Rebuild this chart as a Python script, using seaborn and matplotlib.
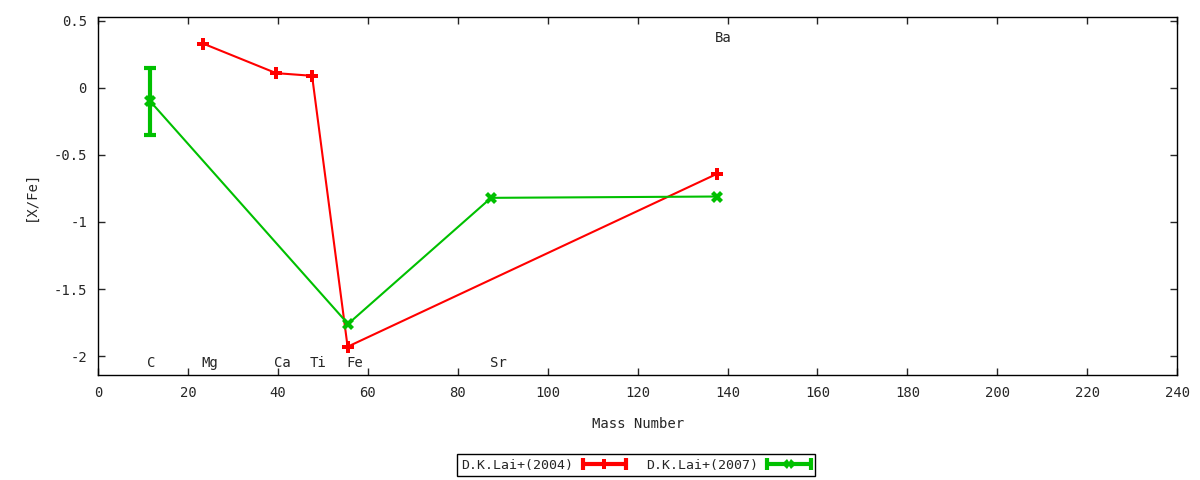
import numpy as np
import pandas as pd
import seaborn as sns
import matplotlib
matplotlib.use("Agg")
import matplotlib.pyplot as plt
from matplotlib.lines import Line2D
from matplotlib.legend_handler import HandlerBase

# abundance data
mass_2004 = [23.4, 39.6, 47.6, 55.5, 137.7]
xfe_2004 = [0.33, 0.11, 0.09, -1.93, -0.64]

mass_2007 = [11.6, 55.6, 87.4, 137.7]
xfe_2007 = [-0.10, -1.76, -0.82, -0.81]

# only the carbon point carries a visible error bar
err_mass = [11.6]
err_xfe = [-0.10]
err_size = [0.25]

element_names = ["C", "Mg", "Ca", "Ti", "Fe", "Sr", "Ba"]
element_x = [11.9, 24.9, 41.0, 49.0, 57.0, 89.0, 139.0]
element_y = [-2.05, -2.05, -2.05, -2.05, -2.05, -2.05, 0.37]

series_names = ["D.K.Lai+(2004)", "D.K.Lai+(2007)"]
colors = ["#ff0000", "#00c000"]
markers = ["P", "X"]


class ErrLineHandler(HandlerBase):
    """gnuplot style legend sample: line with caps and a marker"""

    def create_artists(self, legend, orig_handle, xdescent, ydescent,
                       width, height, fontsize, trans):
        color = orig_handle.get_color()
        y = height / 2 - ydescent
        x0, x1 = -xdescent, -xdescent + width
        line = Line2D([x0, x1], [y, y], color=color, lw=3, transform=trans)
        caps = Line2D([x0, x1], [y, y], ls="none", marker="|", ms=9,
                      mew=3, color=color, transform=trans)
        mk = Line2D([(x0 + x1) / 2], [y], ls="none",
                    marker=orig_handle.get_marker(), ms=7, color=color,
                    markeredgewidth=0, transform=trans)
        return [line, caps, mk]


sns.set_style("ticks")
plt.rcParams["font.family"] = ["DejaVu Sans Mono"]
plt.rcParams["font.size"] = 9.5
plt.rcParams["xtick.direction"] = "in"
plt.rcParams["ytick.direction"] = "in"

data = pd.concat([
    pd.DataFrame({"mass": mass_2004, "xfe": xfe_2004,
                  "source": series_names[0]}),
    pd.DataFrame({"mass": mass_2007, "xfe": xfe_2007,
                  "source": series_names[1]}),
])

fig = plt.figure(figsize=(12, 4.8), dpi=100)
ax = fig.add_axes([0.0817, 0.219, 0.8993, 0.746])

sns.lineplot(data=data, x="mass", y="xfe", hue="source", style="source",
             palette=colors, markers=markers, dashes=False, markersize=8,
             markeredgewidth=0, linewidth=1.5, sort=False, legend=False,
             ax=ax)
ax.errorbar(err_mass, err_xfe, yerr=err_size, fmt="none",
            ecolor=colors[1], elinewidth=3, capsize=4, capthick=3)

for name, x, y in zip(element_names, element_x, element_y):
    ax.text(x, y, name, ha="center", va="center", fontsize=10)

ax.set_xlim(0, 240)
ax.set_ylim(-2.14, 0.53)
ax.set_xticks(np.arange(0, 241, 20))
ax.set_yticks([-2, -1.5, -1, -0.5, 0, 0.5])
ax.set_yticklabels(["-2", "-1.5", "-1", "-0.5", "0", "0.5"])
ax.tick_params(top=True, right=True, length=5, width=1, labelsize=10,
               pad=8)
for side in ax.spines.values():
    side.set_linewidth(1)
    side.set_color("black")
ax.set_xlabel("Mass Number", fontsize=10, labelpad=12)
ax.set_ylabel("[X/Fe]", fontsize=10, labelpad=11)

handles = [Line2D([], [], color=c, marker=m) for c, m in zip(colors, markers)]
leg = fig.legend(handles, series_names, loc="center",
                 bbox_to_anchor=(0.53, 0.031), ncol=2, frameon=True,
                 fancybox=False, edgecolor="black", framealpha=1,
                 markerfirst=False, handlelength=3.3, columnspacing=1.5,
                 handletextpad=0.7, borderpad=0.35, borderaxespad=0,
                 fontsize=9.5, handler_map={Line2D: ErrLineHandler()})
leg.get_frame().set_linewidth(1)

fig.savefig("out.png", dpi=100)
plt.close(fig)
